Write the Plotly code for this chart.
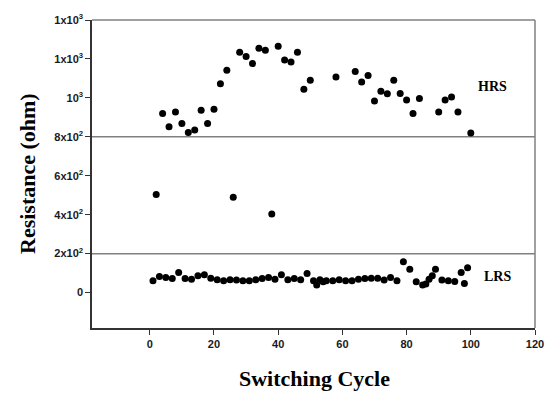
import plotly.graph_objects as go

# HRS (high resistance state) data, even cycles
hrs_x = [2, 4, 6, 8, 10, 12, 14, 16, 18, 20, 22, 24, 26, 28, 30, 32, 34, 36, 38, 40, 42, 44, 46,
         48, 50, 58, 64, 66, 68, 70, 72, 74, 76, 78, 80, 82, 84, 90, 92, 94, 96, 100]
hrs_y = [504, 920, 852, 928, 869, 822, 835, 936, 869, 941, 1073, 1142, 490, 1234, 1213, 1176, 1255,
         1245, 403, 1265, 1194, 1184, 1234, 1044, 1091, 1107, 1135, 1081, 1115, 984, 1034, 1021,
         1091, 1022, 989, 920, 997, 928, 989, 1004, 928, 819]

# LRS (low resistance state) data
lrs_x = [1, 3, 5, 7, 9, 11, 13, 15, 17, 19, 21, 23, 25, 27, 29, 31, 33, 35, 37, 39, 41, 43, 45, 47,
         49, 51, 52, 53, 54, 55, 57, 59, 61, 63, 65, 67, 69, 71, 73, 75, 77, 79, 81, 83, 85, 86, 87,
         88, 89, 91, 93, 95, 97, 98, 99]
lrs_y = [61, 82, 77, 72, 103, 72, 69, 86, 91, 74, 66, 61, 66, 64, 61, 61, 66, 72, 77, 69, 91, 66, 72,
         66, 98, 61, 39, 66, 55, 61, 61, 66, 61, 61, 69, 72, 74, 74, 64, 77, 61, 158, 120, 56, 39,
         44, 69, 86, 120, 64, 61, 57, 103, 47, 128]

x_ticks = [0, 20, 40, 60, 80, 100, 120]
y_ticks = [0, 200, 400, 600, 800, 1000, 1200, 1400]
y_ticktext = ["0", "2x10<sup>2</sup>", "4x10<sup>2</sup>", "6x10<sup>2</sup>", "8x10<sup>2</sup>",
              "10<sup>3</sup>", "1x10<sup>3</sup>", "1x10<sup>3</sup>"]
ref_lines = [200, 800]

X_RANGE = [-18, 120]
Y_RANGE = [-182, 1400]

fig = go.Figure()
fig.add_trace(go.Scatter(x=hrs_x, y=hrs_y, mode="markers",
                         marker=dict(size=7, color="black"), showlegend=False))
fig.add_trace(go.Scatter(x=lrs_x, y=lrs_y, mode="markers",
                         marker=dict(size=7, color="black"), showlegend=False))

for v in ref_lines:
    fig.add_shape(type="line", xref="paper", x0=0, x1=1, yref="y", y0=v, y1=v,
                  line=dict(color="#808080", width=1.5), layer="below")
# top and right frame
fig.add_shape(type="line", xref="paper", x0=0, x1=1, yref="paper", y0=1, y1=1,
              line=dict(color="#808080", width=1.5))
fig.add_shape(type="line", xref="paper", x0=1, x1=1, yref="paper", y0=0, y1=1,
              line=dict(color="#808080", width=1.5))

tickfont = dict(family="Liberation Sans", size=11, color="#1a1a1a", weight="bold")
fig.update_xaxes(range=X_RANGE, tickvals=x_ticks, ticks="outside", ticklen=5, tickwidth=1,
                 tickcolor="#333", showline=True, linecolor="#333", linewidth=1.5,
                 showgrid=False, zeroline=False, tickfont=tickfont)
fig.update_yaxes(range=Y_RANGE, tickvals=y_ticks, ticktext=y_ticktext, ticks="outside",
                 ticklen=5, tickwidth=1, tickcolor="#333", showline=True, linecolor="#333",
                 linewidth=1.5, showgrid=False, zeroline=False, tickfont=tickfont)

title_font = dict(family="Liberation Serif", size=22, color="black")
fig.add_annotation(text="<b>Switching Cycle</b>", xref="paper", yref="paper", x=0.502, y=0,
                   yshift=-50, xanchor="center", yanchor="middle", showarrow=False, font=title_font)
fig.add_annotation(text="<b>Resistance (ohm)</b>", xref="paper", yref="paper", x=0, y=0.5,
                   xshift=-65, xanchor="center", yanchor="middle", textangle=-90,
                   showarrow=False, font=title_font)
label_font = dict(family="Liberation Serif", size=14, color="black")
fig.add_annotation(text="<b>HRS</b>", xref="paper", yref="paper", x=(497 - 92) / 448,
                   y=(328 - 83) / 313, xanchor="center", yanchor="middle", showarrow=False,
                   font=label_font)
fig.add_annotation(text="<b>LRS</b>", xref="paper", yref="paper", x=(502 - 92) / 448,
                   y=(328 - 276) / 313, xanchor="center", yanchor="middle", showarrow=False,
                   font=label_font)

fig.update_layout(width=556, height=396, margin=dict(l=92, r=16, t=15, b=68),
                  plot_bgcolor="white", paper_bgcolor="white")

fig.write_html("out.html")
